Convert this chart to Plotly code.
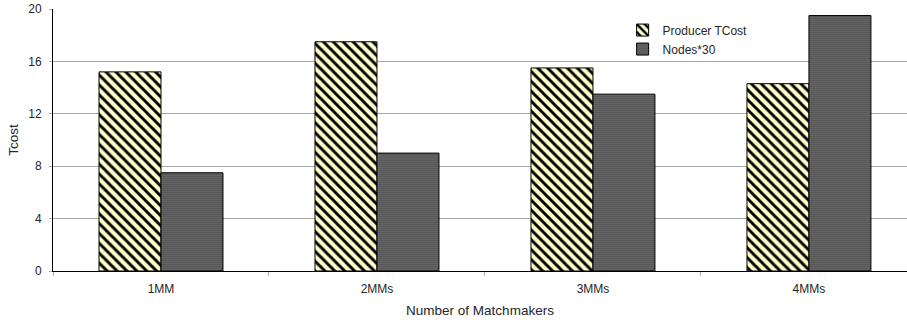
import plotly.graph_objects as go

categories = ["1MM", "2MMs", "3MMs", "4MMs"]
producer_tcost = [15.2, 17.5, 15.5, 14.3]
nodes_x30 = [7.5, 9.0, 13.5, 19.5]
y_ticks = [0, 4, 8, 12, 16, 20]

FONT = "Liberation Sans, Arial, sans-serif"
TEXT = "#262626"

fig = go.Figure()
fig.add_trace(go.Bar(
    x=categories, y=producer_tcost, name="Producer TCost",
    marker=dict(
        color="#FFFFCC",
        line=dict(color="#000000", width=1),
        pattern=dict(shape="\\", fgcolor="#000000", bgcolor="#FFFFCC",
                     size=7, solidity=0.42, fillmode="replace"),
    ),
))
fig.add_trace(go.Bar(
    x=categories, y=nodes_x30, name="Nodes*30",
    marker=dict(
        color="#5e5e5e",
        line=dict(color="#000000", width=1),
        pattern=dict(shape=".", fgcolor="#262626", bgcolor="#949494",
                     size=2, solidity=0.55, fillmode="replace"),
    ),
))

fig.update_layout(
    width=907, height=320,
    margin=dict(l=53, r=0, t=9, b=49),
    paper_bgcolor="white", plot_bgcolor="white",
    barmode="group", bargap=0.426, bargroupgap=0,
    font=dict(family=FONT, size=12, color=TEXT),
    showlegend=True,
    legend=dict(
        x=0.667, y=0.975, xanchor="left", yanchor="top",
        bgcolor="rgba(0,0,0,0)", font=dict(family=FONT, size=12, color=TEXT),
        itemwidth=30, tracegroupgap=0,
    ),
    xaxis=dict(
        range=[-0.5, 3.454], showline=True, linecolor="#000000", linewidth=1,
        ticks="outside", tickson="boundaries", ticklen=4, tickcolor="#b0b0b0",
        ticklabelstandoff=7,
        showgrid=False,
        title=dict(text="Number of Matchmakers", standoff=10,
                   font=dict(family=FONT, size=13.5, color=TEXT)),
        tickfont=dict(family=FONT, size=12, color=TEXT),
    ),
    yaxis=dict(
        range=[0, 20], tickvals=y_ticks, showline=True, linecolor="#000000",
        linewidth=1, showgrid=True, gridcolor="#a8a8a8", gridwidth=1,
        ticks="outside", ticklen=3, tickcolor="#b0b0b0", zeroline=False,
        ticklabelstandoff=5,
        title=dict(text="Tcost", standoff=6,
                   font=dict(family=FONT, size=13.5, color=TEXT)),
        tickfont=dict(family=FONT, size=12, color=TEXT),
    ),
)

fig.write_html("out.html")
